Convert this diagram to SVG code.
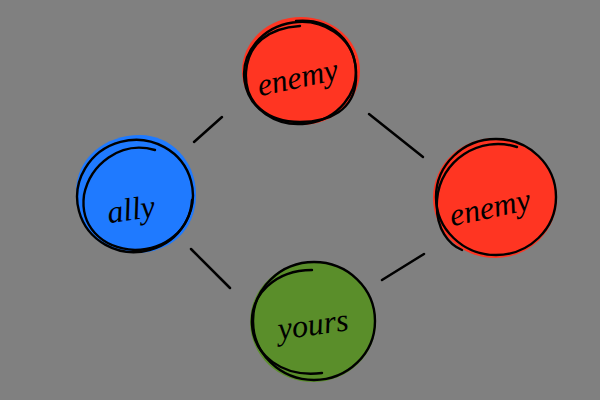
<svg xmlns="http://www.w3.org/2000/svg" width="600" height="400" viewBox="0 0 600 400">
<style>
.sk{fill:none;stroke:#000;stroke-width:2.4;stroke-linecap:round}
.lbl{font-family:"Liberation Serif",serif;font-style:italic;font-size:32px;fill:#000;text-anchor:middle}
.edge{stroke:#000;stroke-width:2.5;stroke-linecap:round;fill:none}
</style>
<rect width="600" height="400" fill="#808080"/>
<g id="connectors">
<line class="edge" x1="194" y1="142" x2="222" y2="117"/>
<line class="edge" x1="369" y1="114" x2="423" y2="157"/>
<line class="edge" x1="191" y1="249" x2="230" y2="288"/>
<line class="edge" x1="382" y1="280" x2="424" y2="254"/>
</g>
<g id="enemy-top">
<ellipse cx="301" cy="71" rx="59" ry="54" fill="#ff3522"/>
<ellipse class="sk" cx="300" cy="73" rx="56" ry="51" transform="rotate(-8 300 73)"/>
<path class="sk" d="M296 21 C330 18 358 40 356 80 C354 110 330 122 300 122 C268 122 244 104 246 72 C248 44 268 28 300 26"/>
<text class="lbl" x="298" y="88" transform="rotate(-12 298 80)">enemy</text>
</g>
<g id="ally">
<path d="M140 135 C170 135 196 160 196 195 C196 230 170 253 136 253 C100 253 76 228 76 192 C76 158 105 135 140 135 Z" fill="#1f7aff"/>
<ellipse class="sk" cx="135" cy="196" rx="58" ry="56" transform="rotate(-15 135 196)"/>
<path class="sk" d="M155 150 C120 140 90 165 84 195 C80 225 100 248 135 250 C165 250 190 230 192 200"/>
<text class="lbl" x="131" y="220" transform="rotate(-8 131 210)">ally</text>
</g>
<g id="enemy-right">
<ellipse cx="495" cy="198" rx="62" ry="60" fill="#ff3522"/>
<ellipse class="sk" cx="496" cy="197" rx="60" ry="58"/>
<path class="sk" d="M517 147 C480 135 440 160 437 200 C435 230 450 245 462 250"/>
<text class="lbl" x="490" y="218" transform="rotate(-12 490 208)">enemy</text>
</g>
<g id="yours">
<ellipse cx="313" cy="322" rx="63" ry="60" fill="#5a8e2a"/>
<ellipse class="sk" cx="314" cy="321" rx="61" ry="59"/>
<path class="sk" d="M312 270 C275 270 250 295 252 325 C254 355 282 378 322 373"/>
<text class="lbl" x="313" y="335" transform="rotate(-8 313 325)">yours</text>
</g>
</svg>
